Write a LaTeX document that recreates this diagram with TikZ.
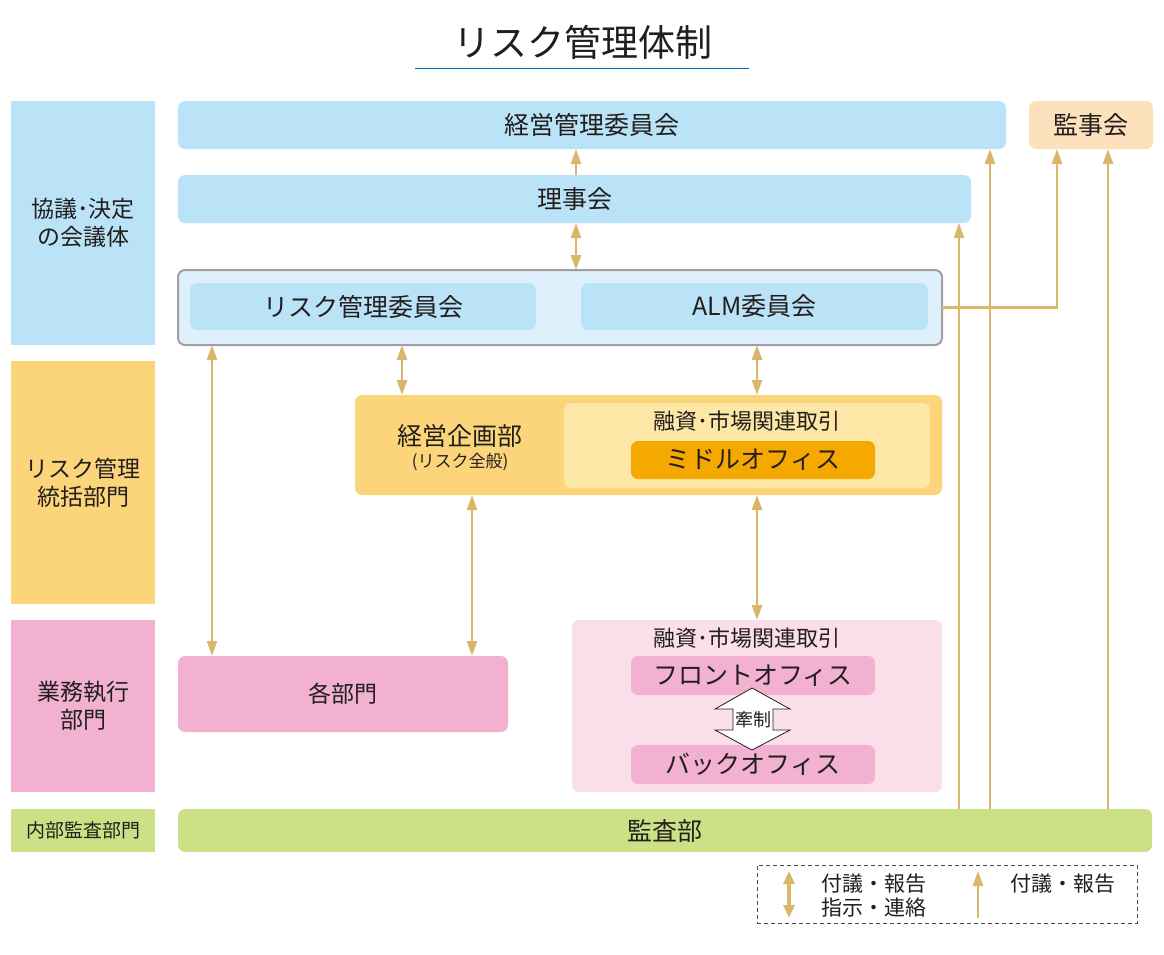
\documentclass[tikz,border=0pt]{standalone}
\usepackage{fontspec}
\setmainfont{Noto Sans CJK JP}
\usetikzlibrary{arrows.meta}
\definecolor{cblue}{RGB}{187,227,247}
\definecolor{cbluelt}{RGB}{221,240,251}
\definecolor{corange}{RGB}{252,213,122}
\definecolor{corangelt}{RGB}{253,231,166}
\definecolor{cmiddle}{RGB}{245,168,0}
\definecolor{cpink}{RGB}{242,177,208}
\definecolor{cpinklt}{RGB}{250,223,234}
\definecolor{cgreen}{RGB}{204,224,133}
\definecolor{cpeach}{RGB}{253,225,189}
\definecolor{ctan}{RGB}{217,182,106}
\definecolor{ctxt}{RGB}{35,30,30}
\definecolor{cgrayb}{RGB}{160,160,160}
\definecolor{ctitle}{RGB}{0,112,192}
\newcommand\bx[7]{\node[#6, minimum width={#4-#2}, minimum height={#5-#3}] (#1) at ({(#2+#4)/2},{(#3+#5)/2}) {#7};}
\begin{document}
\begin{tikzpicture}[x=1pt,y=-1pt,
  base/.style={inner sep=0pt, outer sep=0pt, text=ctxt, align=center},
  sq/.style={base, fill=#1},
  rb/.style={base, fill=#1, rounded corners=7pt},
  lbl/.style={inner sep=0pt, text=ctxt, align=center},
  arr/.style={draw=ctan, line width=2.5pt, -{Triangle[length=15pt,width=10pt]}},
  darr/.style={draw=ctan, line width=2.5pt, {Triangle[length=15pt,width=10pt]}-{Triangle[length=15pt,width=10pt]}},
  larr/.style={draw=ctan, line width=3.5pt, {Triangle[length=13pt,width=11pt]}-{Triangle[length=13pt,width=11pt]}},
  lsarr/.style={draw=ctan, line width=2.5pt, -{Triangle[length=15pt,width=10pt]}},
  f25/.style={font=\fontsize{25}{30}\selectfont},
  f23/.style={font=\fontsize{23}{28}\selectfont},
  f22/.style={font=\fontsize{22}{28}\selectfont},
  f19/.style={font=\fontsize{19}{24}\selectfont},
]
\useasboundingbox (0,0) rectangle (1164,954);
% title
\node[lbl, font=\fontsize{37}{44}\selectfont] (title) at (583,42) {リスク管理体制};
\draw[ctitle, line width=1pt] (415,68) -- (749,68);
% left categories
\bx{cat1}{11}{101}{155}{345}{sq=cblue, f23}{協議･決定\\の会議体}
\bx{cat2}{11}{361}{155}{604}{sq=corange, f23}{リスク管理\\統括部門}
\bx{cat3}{11}{620}{155}{792}{sq=cpink, f23}{業務執行\\部門}
\bx{cat4}{11}{809}{155}{852}{sq=cgreen, f19}{内部監査部門}
% top boxes
\bx{keiei}{178}{101}{1006}{149}{rb=cblue, f25}{経営管理委員会}
\bx{kanji}{1029}{101}{1153}{149}{rb=cpeach, f25}{監事会}
\bx{riji}{178}{175}{971}{223}{rb=cblue, f25}{理事会}
% risk group
\bx{riskgrp}{178}{270}{942}{345}{rb=cbluelt, draw=cgrayb, line width=2pt}{}
\bx{riskcom}{190}{283}{536}{330}{rb=cblue, f25}{リスク管理委員会}
\bx{almcom}{581}{283}{928}{330}{rb=cblue, f25}{ALM委員会}
% planning
\bx{kikaku}{355}{395}{942}{495}{rb=corange}{}
\node[lbl, f25] (kikakulbl) at (460,436) {経営企画部};
\node[lbl, font=\fontsize{17}{20}\selectfont] (kikakusub) at (460,462) {(リスク全般)};
\bx{midgrp}{564}{403}{930}{488}{rb=corangelt}{}
\node[lbl, f22] (midlbl) at (747,421) {融資･市場関連取引};
\bx{middle}{631}{441}{875}{479}{rb=cmiddle, f25}{ミドルオフィス}
% execution
\bx{kakubu}{178}{656}{508}{732}{rb=cpink, f23}{各部門}
\bx{frontgrp}{572}{620}{942}{792}{rb=cpinklt}{}
\node[lbl, f22] (frontlbl) at (747,638) {融資･市場関連取引};
\bx{front}{631}{656}{875}{695}{rb=cpink, f25}{フロントオフィス}
\bx{back}{631}{745}{875}{784}{rb=cpink, f25}{バックオフィス}
\draw[fill=white, draw=ctxt, line width=0.8pt] (752,688) -- (790,709) -- (773,709) -- (773,730) -- (790,730) -- (752,750) -- (715,730) -- (733,730) -- (733,709) -- (715,709) -- cycle;
\node[lbl, font=\fontsize{18}{22}\selectfont] (kensei) at (753,720) {牽制};
% audit
\bx{audit}{178}{809}{1152}{852}{rb=cgreen, f25}{監査部}
% connectors
\coordinate (x212) at (212,0);
\coordinate (x402) at (402,0);
\coordinate (x472) at (472,0);
\coordinate (x576) at (576,0);
\coordinate (x757) at (757,0);
\coordinate (x959) at (959,0);
\coordinate (x990) at (990,0);
\coordinate (x1057) at (1057,0);
\coordinate (x1108) at (1108,0);
\draw[arr] (x576 |- riji.north) -- (x576 |- keiei.south);
\draw[darr] (x576 |- riji.south) -- (x576 |- riskgrp.north);
\draw[darr] (x402 |- riskgrp.south) -- (x402 |- kikaku.north);
\draw[darr] (x757 |- riskgrp.south) -- (x757 |- kikaku.north);
\draw[darr] (x212 |- riskgrp.south) -- (x212 |- kakubu.north);
\draw[darr] (x472 |- kikaku.south) -- (x472 |- kakubu.north);
\draw[darr] (x757 |- kikaku.south) -- (x757 |- frontgrp.north);
\draw[arr] (x959 |- audit.north) -- (x959 |- riji.south);
\draw[arr] (x990 |- audit.north) -- (x990 |- keiei.south);
\draw[arr] (x1108 |- audit.north) -- (x1108 |- kanji.south);
\draw[arr] (riskgrp.east) -| (x1057 |- kanji.south);
% legend
\bx{legend}{757}{865}{1137}{923}{base, draw=ctxt!80, line width=0.8pt, dash pattern=on 4pt off 3pt}{}
\coordinate (la) at (789,871);
\coordinate (lb) at (789,918);
\draw[larr] (la) -- (lb);
\coordinate (lc) at (978,918);
\coordinate (ld) at (978,871);
\draw[lsarr] (lc) -- (ld);
\node[lbl, anchor=west, font=\fontsize{21}{24}\selectfont] (leg1) at (821,884) {付議・報告};
\node[lbl, anchor=west, font=\fontsize{21}{24}\selectfont] (leg2) at (821,908) {指示・連絡};
\node[lbl, anchor=west, font=\fontsize{21}{24}\selectfont] (leg3) at (1010,884) {付議・報告};
\end{tikzpicture}
\end{document}
